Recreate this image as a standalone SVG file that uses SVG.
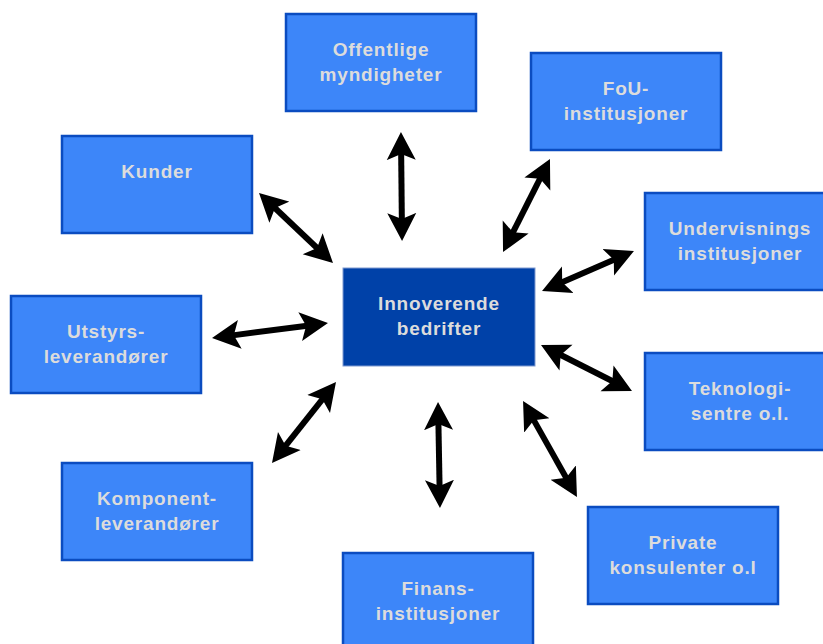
<svg xmlns="http://www.w3.org/2000/svg" width="823" height="644" viewBox="0 0 823 644">
<style>
.box{fill:#3d86f9;stroke:#0b4cc0;stroke-width:2.5}
.core{fill:#0041a8;stroke:#7f9ad0;stroke-width:1}
.t{font-family:"Liberation Sans",Arial,Helvetica,sans-serif;font-weight:bold;font-size:19px;letter-spacing:0.8px;fill:#dcdcdc;text-anchor:middle}
.a{stroke:#000;stroke-width:6;fill:none;marker-start:url(#ah);marker-end:url(#ah)}
</style>
<defs>
<marker id="ah" markerUnits="userSpaceOnUse" viewBox="0 -15 28 30" markerWidth="28" markerHeight="30" refX="13" refY="0" orient="auto-start-reverse">
<path d="M28,0 L0,-14.5 L6,0 L0,14.5 Z" fill="#000"/>
</marker>
</defs>
<rect width="823" height="644" fill="#fff"/>
<g id="connectors">
<line class="a" x1="401.1" y1="147" x2="401.9" y2="226"/>
<line class="a" x1="543.2" y1="172.4" x2="509.8" y2="238.6"/>
<line class="a" x1="269.9" y1="203.3" x2="322.1" y2="252.7"/>
<line class="a" x1="620.2" y1="257" x2="555.8" y2="285"/>
<line class="a" x1="313.1" y1="324.9" x2="226.9" y2="336.1"/>
<line class="a" x1="554.4" y1="351.8" x2="618.6" y2="384.2"/>
<line class="a" x1="326.7" y1="393.8" x2="281.3" y2="451.2"/>
<line class="a" x1="438.3" y1="417" x2="439.7" y2="493"/>
<line class="a" x1="530.4" y1="414.1" x2="569.6" y2="483.9"/>
</g>
<g id="center">
<rect class="core" x="343" y="268" width="192" height="98"/>
<text class="t" x="439" y="310">Innoverende</text>
<text class="t" x="439" y="335">bedrifter</text>
</g>
<g id="offentlige">
<rect class="box" x="286" y="14" width="190" height="97"/>
<text class="t" x="381" y="55.5">Offentlige</text>
<text class="t" x="381" y="80.5">myndigheter</text>
</g>
<g id="fou">
<rect class="box" x="531" y="53" width="190" height="97"/>
<text class="t" x="626" y="94.5">FoU-</text>
<text class="t" x="626" y="119.5">institusjoner</text>
</g>
<g id="kunder">
<rect class="box" x="62" y="136" width="190" height="97"/>
<text class="t" x="157" y="177.5">Kunder</text>
</g>
<g id="undervisnings">
<rect class="box" x="645" y="193" width="190" height="97"/>
<text class="t" x="740" y="234.5">Undervisnings</text>
<text class="t" x="740" y="259.5">institusjoner</text>
</g>
<g id="utstyrs">
<rect class="box" x="11" y="296" width="190" height="97"/>
<text class="t" x="106" y="337.5">Utstyrs-</text>
<text class="t" x="106" y="362.5">leverandører</text>
</g>
<g id="teknologi">
<rect class="box" x="645" y="353" width="190" height="97"/>
<text class="t" x="740" y="394.5">Teknologi-</text>
<text class="t" x="740" y="419.5">sentre o.l.</text>
</g>
<g id="komponent">
<rect class="box" x="62" y="463" width="190" height="97"/>
<text class="t" x="157" y="504.5">Komponent-</text>
<text class="t" x="157" y="529.5">leverandører</text>
</g>
<g id="private">
<rect class="box" x="588" y="507" width="190" height="97"/>
<text class="t" x="683" y="548.5">Private</text>
<text class="t" x="683" y="573.5">konsulenter o.l</text>
</g>
<g id="finans">
<rect class="box" x="343" y="553" width="190" height="97"/>
<text class="t" x="438" y="594.5">Finans-</text>
<text class="t" x="438" y="619.5">institusjoner</text>
</g>
</svg>
